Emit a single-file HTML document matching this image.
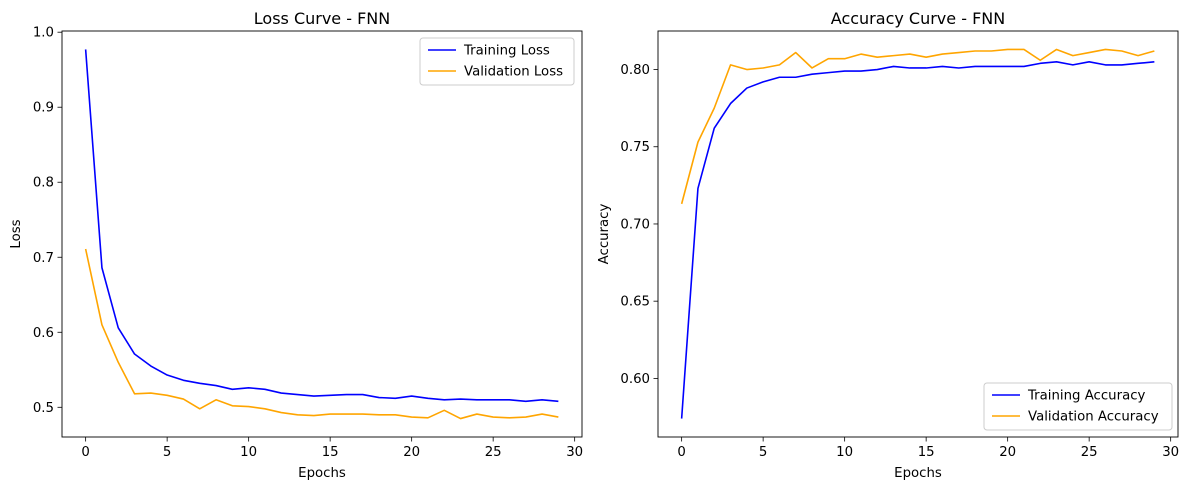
<!DOCTYPE html>
<html><head><meta charset="utf-8"><style>
body{margin:0;background:#fff;font-family:"Liberation Sans","DejaVu Sans",sans-serif;}
svg text{font-family:"DejaVu Sans","Liberation Sans",sans-serif;}
</style></head><body>
<svg id="c" width="1188" height="490" xmlns="http://www.w3.org/2000/svg"></svg>
<script>
const epochs = Array.from({length:30},(_,i)=>i);
const trainLoss = [0.977,0.686,0.606,0.571,0.555,0.543,0.536,0.532,0.529,0.524,0.526,0.524,0.519,0.517,0.515,0.516,0.517,0.517,0.513,0.512,0.515,0.512,0.510,0.511,0.510,0.510,0.510,0.508,0.510,0.508];
const valLoss = [0.711,0.610,0.560,0.518,0.519,0.516,0.511,0.498,0.510,0.502,0.501,0.498,0.493,0.490,0.489,0.491,0.491,0.491,0.490,0.490,0.487,0.486,0.496,0.485,0.491,0.487,0.486,0.487,0.491,0.487];
const trainAcc = [0.574,0.723,0.762,0.778,0.788,0.792,0.795,0.795,0.797,0.798,0.799,0.799,0.800,0.802,0.801,0.801,0.802,0.801,0.802,0.802,0.802,0.802,0.804,0.805,0.803,0.805,0.803,0.803,0.804,0.805];
const valAcc = [0.713,0.753,0.775,0.803,0.800,0.801,0.803,0.811,0.801,0.807,0.807,0.810,0.808,0.809,0.810,0.808,0.810,0.811,0.812,0.812,0.813,0.813,0.806,0.813,0.809,0.811,0.813,0.812,0.809,0.812];
const xTicks = [0,5,10,15,20,25,30];
const lossTicks = [0.5,0.6,0.7,0.8,0.9,1.0];
const accTicks = [0.60,0.65,0.70,0.75,0.80];

const NS="http://www.w3.org/2000/svg";
const svg=document.getElementById('c');
function mk(tag,attrs,parent){const e=document.createElementNS(NS,tag);for(const k in attrs)e.setAttribute(k,attrs[k]);(parent||svg).appendChild(e);return e;}

function panel(cfg){
  const g=mk('g',{});
  
  
  const L=cfg.left,R=cfg.left+520,T=31,B=437;
  const all=cfg.series.flatMap(s=>s.data);
  const mn=Math.min(...all),mx=Math.max(...all),m=(mx-mn)*0.05;
  const y0=mn-m,y1=mx+m;
  const X=v=>L+(v+1.45)/31.9*520;
  const Y=v=>B-(v-y0)/(y1-y0)*(B-T);
  xTicks.forEach(t=>{
    const x=X(t);
    const tk=mk('line',{x1:x,x2:x,y1:B,y2:B+4.5,stroke:'#000','stroke-width':0.8},g);
    
    
    const tx=mk('text',{x:x,y:B+19,'font-size':13.3,'text-anchor':'middle'},g);tx.textContent=t;
    
    
  });
  cfg.yTicks.forEach(t=>{
    const y=Y(t);
    const tk=mk('line',{x1:L-4.5,x2:L,y1:y,y2:y,stroke:'#000','stroke-width':0.8},g);
    
    
    const tx=mk('text',{x:L-8,y:y+4.5,'font-size':13.3,'text-anchor':'end'},g);tx.textContent=t.toFixed(cfg.dec);
    
    
  });
  cfg.series.forEach(s=>{
    const p=mk('polyline',{points:s.data.map((v,i)=>X(epochs[i])+','+Y(v)).join(' '),fill:'none',stroke:s.color,'stroke-width':1.6,'stroke-linejoin':'round'},g);
    
    
  });
  const fr=mk('rect',{x:L,y:T,width:520,height:B-T,fill:'none',stroke:'#000','stroke-width':0.9},g);
  
  
  const ti=mk('text',{x:L+260,y:T-7,'font-size':16,'text-anchor':'middle'},g);ti.textContent=cfg.title;
  
  
  const xl=mk('text',{x:L+260,y:477,'font-size':13.3,'text-anchor':'middle'},g);xl.textContent='Epochs';
  
  
  const yl=mk('text',{x:0,y:0,'font-size':13.3,'text-anchor':'middle',transform:`translate(${cfg.ylx},234) rotate(-90)`},g);yl.textContent=cfg.ylabel;
  
  
  const lg=mk('g',{},g);
  
  
  mk('rect',{x:cfg.lx,y:cfg.ly,width:cfg.lw,height:47,rx:3,fill:'#fff','fill-opacity':0.8,stroke:'#ccc'},lg);
  cfg.series.forEach((s,i)=>{
    const yy=cfg.ly+12+i*21;
    const e=mk('g',{},lg);
    
    
    mk('line',{x1:cfg.lx+8,x2:cfg.lx+36,y1:yy,y2:yy,stroke:s.color,'stroke-width':1.6},e);
    const t=mk('text',{x:cfg.lx+44,y:yy+4.5,'font-size':13.3},e);t.textContent=s.label;
  });
}
panel({name:'loss-chart',left:62,title:'Loss Curve - FNN',ylabel:'Loss',ylx:20,yTicks:lossTicks,dec:1,
  series:[{id:'training-loss-line',data:trainLoss,color:'#0000ff',label:'Training Loss'},{id:'validation-loss-line',data:valLoss,color:'#ffa500',label:'Validation Loss'}],
  lx:420,ly:38,lw:154});
panel({name:'accuracy-chart',left:658,title:'Accuracy Curve - FNN',ylabel:'Accuracy',ylx:608,yTicks:accTicks,dec:2,
  series:[{id:'training-accuracy-line',data:trainAcc,color:'#0000ff',label:'Training Accuracy'},{id:'validation-accuracy-line',data:valAcc,color:'#ffa500',label:'Validation Accuracy'}],
  lx:984,ly:383,lw:188});
</script>
</body></html>
